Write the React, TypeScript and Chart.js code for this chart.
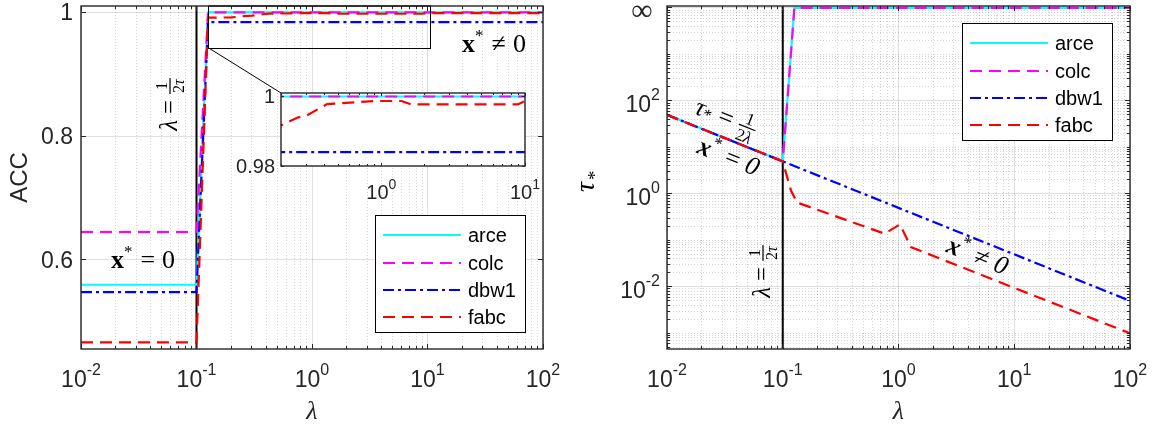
import React, { useEffect, useRef } from "react";
import { Chart, registerables } from "chart.js";

Chart.register(...registerables);

// ---------------- data ----------------
const seriesNames = ["arce", "colc", "dbw1", "fabc"];

// Left panel: ACC versus lambda
const accLambdaStep = [0.01, 0.1, 0.126, 100];
const accArce = [0.56, 0.56, 1.0, 1.0];
const accColc = [0.645, 0.645, 1.0, 1.0];
const accDbw1 = [0.548, 0.548, 0.984, 0.984];
const accLambdaFabc = [0.01, 0.1, 0.126, 0.2, 0.259, 0.304, 0.419, 0.894, 1.38, 1.62, 8.93, 10, 100];
const accFabc = [0.467, 0.467, 0.9915, 0.9917, 0.9939, 0.9946, 0.9978, 0.9987, 0.9987, 0.9977, 0.9977, 0.9987, 0.9987];

// Right panel: tau_* versus lambda (10000 plotted as "infinity")
const tauLambdaStep = [0.01, 0.1, 0.126, 100];
const tauArce = [50, 5, 10000, 10000];
const tauColc = [50, 5, 10000, 10000];
const tauLambdaDbw1 = [0.01, 0.1, 1, 10, 100];
const tauDbw1 = [50, 5, 0.5, 0.05, 0.005];
const tauLambdaFabc = [0.01, 0.1, 0.118, 0.133, 0.76, 1.03, 1.28, 10, 100];
const tauFabc = [50, 5, 1.16, 0.65, 0.139, 0.22, 0.0715, 0.0095, 0.001];

const thresholdLambda = 0.1;

// ticks
const xTickValues = [0.01, 0.1, 1, 10, 100];
const xTickExponents = ["-2", "-1", "0", "1", "2"];
const accTickValues = [0.6, 0.8, 1];
const accTickLabels = ["0.6", "0.8", "1"];
const tauTickValues = [0.01, 1, 100, 10000];
const tauTickExponents = ["-2", "0", "2", "∞"];
const insetXTickValues = [1, 10];
const insetXTickExponents = ["0", "1"];
const insetYTickValues = [0.98, 1];
const insetYTickLabels = ["0.98", "1"];

// axis ranges
const X_MIN = 0.01;
const X_MAX = 100;
const ACC_MIN = 0.4562;
const ACC_MAX = 1.0102;
const TAU_MIN = 0.00046;
const TAU_MAX = 11000;
const INSET_X_MIN = 0.2;
const INSET_X_MAX = 10;
const INSET_Y_MIN = 0.98;
const INSET_Y_MAX = 1.001;
const ZOOM_BOX_X = [0.126, 10.5];
const ZOOM_BOX_Y_LOW = 0.943;

// ---------------- styles ----------------
const SANS = '"Liberation Sans", Arial, Helvetica, sans-serif';
const SERIF = '"Liberation Serif", "Times New Roman", "DejaVu Serif", serif';
const AX = "#262626";
const LW = 2.2;
const STYLE: Record<string, { color: string; dash: number[] }> = {
  arce: { color: "#00ffff", dash: [] },
  colc: { color: "#ff00ff", dash: [12, 7] },
  dbw1: { color: "#0000ff", dash: [11, 4, 3, 4] },
  fabc: { color: "#ff0000", dash: [12, 7] },
};
const INSET_BOX = { left: 281, top: 93, canvasLeft: 221, canvasTop: 84 };

type Ctx = CanvasRenderingContext2D;

function series(name: string, xs: number[], ys: number[], order: number) {
  return {
    label: name,
    data: xs.map((x, i) => ({ x, y: ys[i] })),
    borderColor: STYLE[name].color,
    borderWidth: LW,
    borderDash: STYLE[name].dash,
    pointRadius: 0,
    tension: 0,
    fill: false,
    order,
  };
}

function blackLine(y0: number, y1: number) {
  return {
    label: "threshold",
    data: [
      { x: thresholdLambda, y: y0 },
      { x: thresholdLambda, y: y1 },
    ],
    borderColor: "#000000",
    borderWidth: 2,
    pointRadius: 0,
    tension: 0,
    fill: false,
    order: 5,
  };
}

function minorLog(e0: number, e1: number, withDecades: number[] = []): number[] {
  const out: number[] = [];
  for (let e = e0; e < e1; e++) {
    for (let m = 2; m <= 9; m++) out.push(m * Math.pow(10, e));
  }
  return out.concat(withDecades);
}

const crisp = (v: number) => Math.round(v - 0.5) + 0.5;

function hline(ctx: Ctx, x1: number, x2: number, y: number) {
  ctx.beginPath();
  ctx.moveTo(x1, y);
  ctx.lineTo(x2, y);
  ctx.stroke();
}
function vline(ctx: Ctx, x: number, y1: number, y2: number) {
  ctx.beginPath();
  ctx.moveTo(x, y1);
  ctx.lineTo(x, y2);
  ctx.stroke();
}

function drawPow(ctx: Ctx, base: string, exp: string, x: number, baseY: number, align: "center" | "right", fs: number, raise: number) {
  const efs = Math.round(fs * 0.68);
  ctx.textAlign = "left";
  ctx.textBaseline = "alphabetic";
  ctx.font = `${fs}px ${SANS}`;
  const wb = ctx.measureText(base).width;
  ctx.font = `${efs}px ${SANS}`;
  const we = ctx.measureText(exp).width;
  const w = wb + we;
  const x0 = align === "center" ? x - w / 2 : x - w;
  ctx.font = `${fs}px ${SANS}`;
  ctx.fillText(base, x0, baseY);
  ctx.font = `${efs}px ${SANS}`;
  ctx.fillText(exp, x0 + wb, baseY - raise);
}

type P = { t: string; f: string; dy?: number; gap?: number };
type Item = { run: P[] } | { num: P[]; den: P[]; cap: number };

function runWidth(ctx: Ctx, ps: P[]) {
  let w = 0;
  for (const p of ps) {
    ctx.font = p.f;
    w += ctx.measureText(p.t).width + (p.gap || 0);
  }
  return w;
}
function drawRun(ctx: Ctx, ps: P[], x: number, y: number) {
  let cx = x;
  for (const p of ps) {
    ctx.font = p.f;
    ctx.fillText(p.t, cx, y + (p.dy || 0));
    cx += ctx.measureText(p.t).width + (p.gap || 0);
  }
}
function itemWidth(ctx: Ctx, it: Item) {
  if ("run" in it) return runWidth(ctx, it.run);
  return Math.max(runWidth(ctx, it.num), runWidth(ctx, it.den)) + 4;
}
function drawMath(ctx: Ctx, items: Item[], cx: number, cy: number, angle: number, fs: number) {
  ctx.save();
  ctx.translate(cx, cy);
  ctx.rotate(angle);
  ctx.fillStyle = "#000";
  ctx.textAlign = "left";
  ctx.textBaseline = "alphabetic";
  const widths = items.map((it) => itemWidth(ctx, it));
  const W = widths.reduce((s, v) => s + v, 0);
  let x = -W / 2;
  const base = fs * 0.26;
  items.forEach((it, i) => {
    if ("run" in it) {
      drawRun(ctx, it.run, x, base);
    } else {
      const w = widths[i];
      ctx.fillRect(x + 1, -0.6, w - 2, 1.2);
      const wn = runWidth(ctx, it.num);
      const wd = runWidth(ctx, it.den);
      drawRun(ctx, it.num, x + (w - wn) / 2, -3);
      drawRun(ctx, it.den, x + (w - wd) / 2, 3 + it.cap);
    }
    x += widths[i];
  });
  ctx.restore();
}

const F = (size: number, style = "") => `${style} ${size}px ${SERIF}`.trim();

function drawLegend(ctx: Ctx, chart: any, x: number, y: number) {
  const ds = chart.data.datasets.filter((d: any) => seriesNames.includes(d.label));
  ctx.save();
  ctx.fillStyle = "#ffffff";
  ctx.fillRect(x, y, 150, 117);
  ctx.strokeStyle = "#000000";
  ctx.lineWidth = 1;
  ctx.setLineDash([]);
  ctx.strokeRect(x + 0.5, y + 0.5, 150, 117);
  const rows = [20, 48, 75, 102];
  ds.forEach((d: any, i: number) => {
    const ry = y + rows[i];
    ctx.strokeStyle = d.borderColor;
    ctx.lineWidth = LW;
    ctx.setLineDash(d.borderDash || []);
    hline(ctx, x + 8, x + 86, ry);
    ctx.setLineDash([]);
    ctx.fillStyle = "#000";
    ctx.font = `20px ${SANS}`;
    ctx.textAlign = "left";
    ctx.textBaseline = "middle";
    ctx.fillText(d.label, x + 93, ry + 1);
  });
  ctx.restore();
}

interface AxesSpec {
  xMajor: number[];
  xMinor: number[];
  yMajor: number[];
  yMinor: number[];
  grid: { xMajor: boolean; xMinor: boolean; yMajor: boolean; yMinor: boolean };
  tickLen: [number, number];
  labels: (ctx: Ctx, chart: any) => void;
  overlay?: (ctx: Ctx, chart: any) => void;
}

function makeAxesPlugin(spec: AxesSpec) {
  const inRange = (s: any, v: number) => v >= s.min - 1e-12 && v <= s.max + 1e-12;
  return {
    id: "matlabAxes",
    beforeDatasetsDraw(chart: any) {
      const { ctx, chartArea: a } = chart;
      const xs = chart.scales.x;
      const ys = chart.scales.y;
      ctx.save();
      ctx.fillStyle = "#ffffff";
      ctx.fillRect(a.left, a.top, a.right - a.left, a.bottom - a.top);
      ctx.lineWidth = 1;
      ctx.strokeStyle = "rgba(38,38,38,0.2)";
      ctx.setLineDash([1, 2]);
      if (spec.grid.xMinor)
        spec.xMinor.filter((v) => inRange(xs, v)).forEach((v) => vline(ctx, crisp(xs.getPixelForValue(v)), a.top, a.bottom));
      if (spec.grid.yMinor)
        spec.yMinor.filter((v) => inRange(ys, v)).forEach((v) => hline(ctx, a.left, a.right, crisp(ys.getPixelForValue(v))));
      ctx.setLineDash([]);
      ctx.strokeStyle = "rgba(38,38,38,0.15)";
      if (spec.grid.xMajor)
        spec.xMajor.filter((v) => inRange(xs, v)).forEach((v) => vline(ctx, crisp(xs.getPixelForValue(v)), a.top, a.bottom));
      if (spec.grid.yMajor)
        spec.yMajor.filter((v) => inRange(ys, v)).forEach((v) => hline(ctx, a.left, a.right, crisp(ys.getPixelForValue(v))));
      ctx.restore();
    },
    afterDatasetsDraw(chart: any) {
      const { ctx, chartArea: a } = chart;
      const xs = chart.scales.x;
      const ys = chart.scales.y;
      ctx.save();
      ctx.strokeStyle = AX;
      ctx.lineWidth = 1.4;
      ctx.setLineDash([]);
      ctx.strokeRect(a.left, a.top, a.right - a.left, a.bottom - a.top);
      ctx.lineWidth = 1;
      const [maj, min] = spec.tickLen;
      const xt = (vals: number[], len: number) =>
        vals.filter((v) => inRange(xs, v)).forEach((v) => {
          const px = crisp(xs.getPixelForValue(v));
          vline(ctx, px, a.bottom, a.bottom - len);
          vline(ctx, px, a.top, a.top + len);
        });
      const yt = (vals: number[], len: number) =>
        vals.filter((v) => inRange(ys, v)).forEach((v) => {
          const py = crisp(ys.getPixelForValue(v));
          hline(ctx, a.left, a.left + len, py);
          hline(ctx, a.right, a.right - len, py);
        });
      xt(spec.xMajor, maj);
      xt(spec.xMinor, min);
      yt(spec.yMajor, maj);
      yt(spec.yMinor, min);
      ctx.fillStyle = AX;
      spec.labels(ctx, chart);
      if (spec.overlay) spec.overlay(ctx, chart);
      ctx.restore();
    },
  };
}

function baseOptions(xMin: number, xMax: number, yType: string, yMin: number, yMax: number, padding: any) {
  return {
    responsive: false,
    maintainAspectRatio: false,
    animation: false as const,
    events: [],
    layout: { padding },
    plugins: { legend: { display: false }, tooltip: { enabled: false } },
    scales: {
      x: { type: "logarithmic", min: xMin, max: xMax, display: false },
      y: { type: yType, min: yMin, max: yMax, display: false },
    },
  };
}

function lambdaMath(): Item[] {
  return [
    { run: [{ t: "λ", f: F(25, "italic"), gap: 6 }, { t: "=", f: F(25), gap: 5 }] },
    { num: [{ t: "1", f: F(16) }], den: [{ t: "2", f: F(16) }, { t: "τ", f: F(16, "italic") }], cap: 11 },
  ];
}

function makeLeft(canvas: HTMLCanvasElement) {
  const plugin = makeAxesPlugin({
    xMajor: xTickValues,
    xMinor: minorLog(-2, 2),
    yMajor: accTickValues,
    yMinor: [],
    grid: { xMajor: true, xMinor: true, yMajor: true, yMinor: false },
    tickLen: [5, 3],
    labels: (ctx, chart) => {
      const a = chart.chartArea;
      const xs = chart.scales.x;
      const ys = chart.scales.y;
      xTickValues.forEach((v, i) => drawPow(ctx, "10", xTickExponents[i], xs.getPixelForValue(v), a.bottom + 38, "center", 23, 12));
      ctx.font = `23px ${SANS}`;
      ctx.textAlign = "right";
      ctx.textBaseline = "alphabetic";
      accTickValues.forEach((v, i) => ctx.fillText(accTickLabels[i], a.left - 8, ys.getPixelForValue(v) + 8));
      ctx.font = `italic 26px ${SERIF}`;
      ctx.textAlign = "center";
      ctx.fillText("λ", (a.left + a.right) / 2, 419);
      ctx.save();
      ctx.translate(20, (a.top + a.bottom) / 2);
      ctx.rotate(-Math.PI / 2);
      ctx.font = `24px ${SANS}`;
      ctx.textBaseline = "middle";
      ctx.textAlign = "center";
      ctx.fillText("ACC", 0, 0);
      ctx.restore();
    },
    overlay: (ctx, chart) => {
      const a = chart.chartArea;
      const xs = chart.scales.x;
      const ys = chart.scales.y;
      const bx0 = xs.getPixelForValue(ZOOM_BOX_X[0]);
      const bx1 = xs.getPixelForValue(ZOOM_BOX_X[1]);
      const by1 = ys.getPixelForValue(ZOOM_BOX_Y_LOW);
      ctx.strokeStyle = "#000";
      ctx.lineWidth = 1;
      ctx.strokeRect(Math.round(bx0) + 0.5, a.top, Math.round(bx1 - bx0), Math.round(by1 - a.top) + 0.5);
      ctx.beginPath();
      ctx.moveTo(bx0, by1);
      ctx.lineTo(INSET_BOX.left, INSET_BOX.top);
      ctx.stroke();
      drawMath(ctx, lambdaMath(), 170, 104, -Math.PI / 2, 25);
      drawMath(
        ctx,
        [{ run: [{ t: "x", f: F(26, "bold") }, { t: "*", f: F(17), dy: -11, gap: 8 }, { t: "=", f: F(26), gap: 7 }, { t: "0", f: F(26) }] }],
        143,
        261,
        0,
        26
      );
      drawMath(
        ctx,
        [{ run: [{ t: "x", f: F(26, "bold") }, { t: "*", f: F(17), dy: -11, gap: 8 }, { t: "≠", f: F(26), gap: 7 }, { t: "0", f: F(26) }] }],
        494,
        45,
        0,
        26
      );
      drawLegend(ctx, chart, 375, 215);
    },
  });
  return new Chart(canvas, {
    type: "line",
    data: {
      datasets: [
        series("arce", accLambdaStep, accArce, 4),
        series("colc", accLambdaStep, accColc, 3),
        series("dbw1", accLambdaStep, accDbw1, 2),
        series("fabc", accLambdaFabc, accFabc, 1),
        blackLine(ACC_MIN, ACC_MAX),
      ] as any,
    },
    options: baseOptions(X_MIN, X_MAX, "linear", ACC_MIN, ACC_MAX, { left: 81, top: 6, right: 35, bottom: 75 }) as any,
    plugins: [plugin],
  });
}

function makeRight(canvas: HTMLCanvasElement) {
  const plugin = makeAxesPlugin({
    xMajor: xTickValues,
    xMinor: minorLog(-2, 2),
    yMajor: tauTickValues,
    yMinor: minorLog(-4, 4, [0.001, 0.1, 10, 1000]),
    grid: { xMajor: true, xMinor: true, yMajor: true, yMinor: true },
    tickLen: [5, 3],
    labels: (ctx, chart) => {
      const a = chart.chartArea;
      const xs = chart.scales.x;
      const ys = chart.scales.y;
      xTickValues.forEach((v, i) => drawPow(ctx, "10", xTickExponents[i], xs.getPixelForValue(v), a.bottom + 38, "center", 23, 12));
      tauTickValues.forEach((v, i) => {
        const py = ys.getPixelForValue(v);
        if (tauTickExponents[i] === "∞") {
          ctx.font = `30px ${SERIF}`;
          ctx.textAlign = "center";
          ctx.textBaseline = "alphabetic";
          ctx.fillText("∞", a.left - 25, py + 12);
        } else {
          drawPow(ctx, "10", tauTickExponents[i], a.left - 7, py + 11, "right", 23, 12);
        }
      });
      ctx.font = `italic 26px ${SERIF}`;
      ctx.textAlign = "center";
      ctx.textBaseline = "alphabetic";
      ctx.fillText("λ", (a.left + a.right) / 2, 419);
      ctx.save();
      ctx.translate(11, 186);
      ctx.rotate(-Math.PI / 2);
      ctx.textAlign = "left";
      ctx.fillStyle = "#000";
      ctx.font = F(28, "italic");
      ctx.fillText("τ", -6, 5);
      ctx.font = F(19);
      ctx.fillText("*", 6, 12);
      ctx.restore();
    },
    overlay: (ctx, chart) => {
      const ang = 0.38;
      drawMath(ctx, lambdaMath(), 185, 271, -Math.PI / 2, 25);
      drawMath(
        ctx,
        [
          { run: [{ t: "τ", f: F(26, "italic") }, { t: "*", f: F(17), dy: 2, gap: 7 }, { t: "=", f: F(26), gap: 6 }] },
          { num: [{ t: "1", f: F(17) }], den: [{ t: "2", f: F(17) }, { t: "λ", f: F(17, "italic") }], cap: 12 },
        ],
        148,
        119,
        ang,
        26
      );
      drawMath(
        ctx,
        [{ run: [{ t: "x", f: F(26, "bold italic") }, { t: "*", f: F(17), dy: -11, gap: 8 }, { t: "=", f: F(26), gap: 7 }, { t: "0", f: F(26, "italic") }] }],
        150,
        158,
        ang,
        26
      );
      drawMath(
        ctx,
        [{ run: [{ t: "x", f: F(26, "bold italic") }, { t: "*", f: F(17), dy: -11, gap: 8 }, { t: "≠", f: F(26), gap: 7 }, { t: "0", f: F(26, "italic") }] }],
        399,
        257,
        ang,
        26
      );
      drawLegend(ctx, chart, 384, 23);
    },
  });
  return new Chart(canvas, {
    type: "line",
    data: {
      datasets: [
        series("arce", tauLambdaStep, tauArce, 4),
        series("colc", tauLambdaStep, tauColc, 3),
        series("dbw1", tauLambdaDbw1, tauDbw1, 2),
        series("fabc", tauLambdaFabc, tauFabc, 1),
        blackLine(TAU_MIN, TAU_MAX),
      ] as any,
    },
    options: baseOptions(X_MIN, X_MAX, "logarithmic", TAU_MIN, TAU_MAX, { left: 89, top: 6, right: 26, bottom: 75 }) as any,
    plugins: [plugin],
  });
}

function makeInset(canvas: HTMLCanvasElement) {
  const plugin = makeAxesPlugin({
    xMajor: insetXTickValues,
    xMinor: minorLog(-1, 1),
    yMajor: insetYTickValues,
    yMinor: [],
    grid: { xMajor: false, xMinor: false, yMajor: false, yMinor: false },
    tickLen: [3, 2],
    labels: (ctx, chart) => {
      const a = chart.chartArea;
      const xs = chart.scales.x;
      const ys = chart.scales.y;
      insetXTickValues.forEach((v, i) =>
        drawPow(ctx, "10", insetXTickExponents[i], xs.getPixelForValue(v), a.bottom + 33, "center", 20, 10)
      );
      ctx.font = `20px ${SANS}`;
      ctx.textAlign = "right";
      ctx.textBaseline = "alphabetic";
      insetYTickValues.forEach((v, i) => ctx.fillText(insetYTickLabels[i], a.left - 6, ys.getPixelForValue(v) + 7));
    },
  });
  return new Chart(canvas, {
    type: "line",
    data: {
      datasets: [
        series("arce", accLambdaStep, accArce, 4),
        series("colc", accLambdaStep, accColc, 3),
        series("dbw1", accLambdaStep, accDbw1, 2),
        series("fabc", accLambdaFabc, accFabc, 1),
      ] as any,
    },
    options: baseOptions(INSET_X_MIN, INSET_X_MAX, "linear", INSET_Y_MIN, INSET_Y_MAX, {
      left: INSET_BOX.left - INSET_BOX.canvasLeft,
      top: INSET_BOX.top - INSET_BOX.canvasTop,
      right: 20,
      bottom: 44,
    }) as any,
    plugins: [plugin],
  });
}

export default function App() {
  const leftRef = useRef<HTMLCanvasElement>(null);
  const rightRef = useRef<HTMLCanvasElement>(null);
  const insetRef = useRef<HTMLCanvasElement>(null);
  useEffect(() => {
    const charts = [makeLeft(leftRef.current!), makeRight(rightRef.current!), makeInset(insetRef.current!)];
    return () => charts.forEach((c) => c.destroy());
  }, []);
  return (
    <div style={{ position: "absolute", left: 0, top: 0, width: 1156, height: 424, background: "#ffffff", overflow: "hidden" }}>
      <canvas ref={leftRef} width={578} height={424} style={{ position: "absolute", left: 0, top: 0, width: 578, height: 424 }} />
      <canvas ref={rightRef} width={578} height={424} style={{ position: "absolute", left: 578, top: 0, width: 578, height: 424 }} />
      <canvas
        ref={insetRef}
        width={324}
        height={126}
        style={{ position: "absolute", left: INSET_BOX.canvasLeft, top: INSET_BOX.canvasTop, width: 324, height: 126 }}
      />
    </div>
  );
}
